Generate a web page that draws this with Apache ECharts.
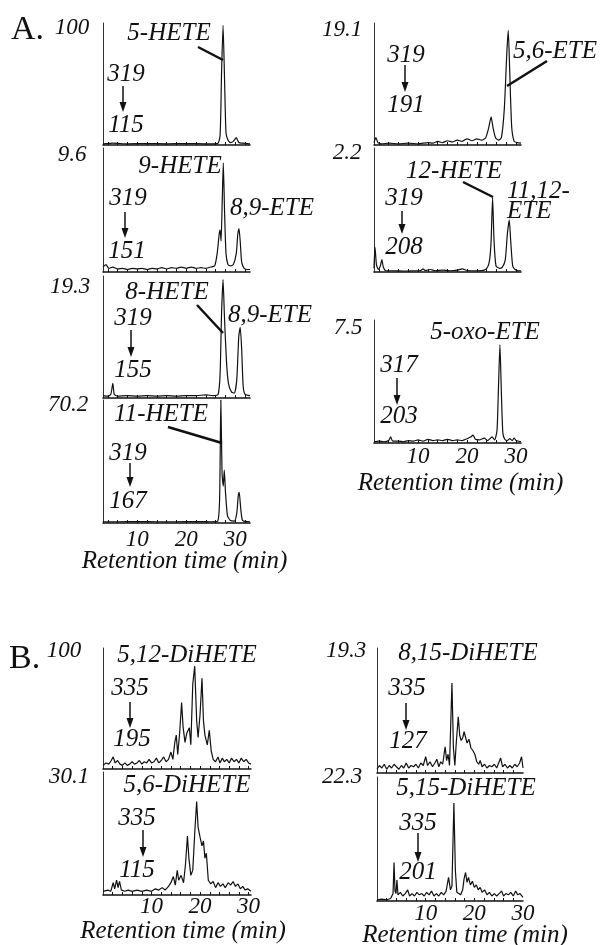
<!DOCTYPE html>
<html>
<head>
<meta charset="utf-8">
<script src="https://cdn.jsdelivr.net/npm/echarts@6/dist/echarts.min.js"></script>
<style>
  html, body { margin: 0; padding: 0; background: #fff; }
  #chart { width: 601px; height: 945px; }
</style>
</head>
<body>
<div id="chart"></div>
<script>
// retention time (min), relative intensity (% of panel full scale)
const hete5 = [[3,1],[5,1.5],[8,1],[12,1.2],[16,1],[20,1.2],[24,1],[26.4,1.2],[26.9,8],[27.2,60],[27.5,98],[27.8,55],[28.1,10],[28.5,4],[29,2],[29.6,3],[30.2,6],[30.7,2],[31.5,1.5],[33,1]];
const hete9 = [[3,4],[3.6,6],[4.2,3],[5,4],[6,2.5],[7,3],[8,2],[9,3],[10,2.5],[11,3],[12,2],[13,3],[14,2.5],[15,3.5],[16,2.5],[17,3.5],[18,3],[19,4],[20,3],[21,4],[22,3],[23,3.5],[24,3],[25,4],[25.8,5],[26.3,15],[26.7,30],[26.9,34],[27.1,25],[27.35,60],[27.55,88],[27.8,50],[28.1,15],[28.5,6],[29,5],[29.6,6],[30.2,15],[30.5,30],[30.75,35],[31,25],[31.3,8],[31.8,3],[32.5,2],[33,2]];
const hete8 = [[3,2],[4,1.5],[4.6,3],[5,12],[5.3,3],[6,1.5],[8,2],[10,1.5],[12,2],[14,1.5],[16,2],[18,1.5],[20,2],[22,2],[24,2.5],[25.5,2],[26.5,3],[26.9,20],[27.2,70],[27.5,97],[27.8,65],[28.2,30],[28.6,12],[29.2,5],[29.8,4],[30.3,15],[30.7,50],[31,58],[31.3,40],[31.6,10],[32,3],[33,2]];
const hete11 = [[3,1],[6,1],[10,1.2],[14,1],[18,1],[22,1.2],[25,1],[26.4,1.5],[26.8,20],[27.05,100],[27.3,40],[27.55,30],[27.75,43],[28,25],[28.4,6],[29,2],[29.8,1.5],[30.3,8],[30.6,22],[30.8,25],[31.1,12],[31.5,2],[33,1]];
const ete56 = [[1,2],[1.4,6],[1.8,2],[2.5,1],[4,1.5],[6,1],[8,1.5],[10,1],[12,2],[13,1.5],[14,3],[15,2],[16,3.5],[17,2.5],[18,4],[19,3],[20,5],[21,3.5],[22,5],[23,4],[23.8,6],[24.4,14],[24.9,23],[25.3,14],[25.8,6],[26.4,4],[27,6],[27.6,30],[28.1,75],[28.4,94],[28.7,60],[29.1,15],[29.6,3],[30.2,2],[31,1.5]];
const hete12 = [[1,3],[1.2,20],[1.5,6],[1.9,2],[2.3,5],[2.6,10],[2.9,4],[3.4,1],[5,1],[7,0.8],[9,1],[10.5,1.2],[11,2.5],[11.5,1.2],[12.5,2],[13.5,1],[15,1.5],[16.5,1],[18,1.5],[19,2.5],[20,1.2],[22,1],[23.5,1.5],[24.2,4],[24.6,10],[24.9,25],[25.2,60],[25.5,25],[25.9,5],[26.6,3],[27.2,4],[27.8,10],[28.2,30],[28.6,42],[28.9,25],[29.3,5],[29.8,2],[30.5,1],[31,1]];
const oxoEte5 = [[1,1],[2,1.5],[3,1],[4,2],[4.4,5],[4.8,1.5],[6,1.5],[7,1],[8,2],[9,1.5],[10,2.5],[11,1.5],[12,3],[13,2],[14,2.5],[15,2],[16,3],[17,2],[18,2.5],[19,2],[20,3.5],[20.8,5],[21.2,6.5],[21.7,3],[22.5,2.5],[23.5,4],[24.2,2],[25.1,5],[25.6,2.5],[26.1,10],[26.4,45],[26.7,80],[27,40],[27.3,8],[27.7,3],[28.2,2],[28.7,3.5],[29.2,2],[29.6,4],[30,2],[31,1]];
const diHete512 = [[0,3],[0.6,5],[1.2,4],[1.7,7],[2.1,10],[2.5,5],[3,7],[3.5,4],[4,3],[4.5,5],[5,3],[5.5,4],[6,6],[6.5,4],[7,5],[7.5,7],[8,4],[8.5,6],[9,5],[9.5,8],[10,5],[10.5,6],[11,9],[11.5,5],[12,7],[12.5,10],[13,6],[13.5,8],[14,14],[14.4,8],[14.8,22],[15.1,28],[15.4,12],[15.8,30],[16.2,55],[16.5,35],[16.9,22],[17.3,30],[17.8,34],[18.1,20],[18.5,70],[18.9,85],[19.3,40],[19.6,26],[20,45],[20.4,75],[20.7,40],[21,28],[21.5,20],[21.9,32],[22.3,15],[22.7,8],[23.2,6],[23.7,10],[24.1,5],[24.6,9],[25,6],[25.5,8],[26,5],[26.5,9],[27,6],[27.5,8],[28,5],[28.5,9],[29,6],[29.5,8],[30,5],[30.5,4]];
const diHete56 = [[0,3],[1,4],[1.6,3],[2.1,10],[2.4,5],[2.8,12],[3.1,6],[3.4,11],[3.8,4],[4.5,3],[5.2,4],[6,3],[7,4],[8,3],[9,4],[10,3],[10.8,5],[11.5,4],[12.2,6],[12.8,4],[13.5,7],[14,10],[14.5,15],[14.9,8],[15.3,20],[15.6,12],[16.1,16],[16.6,10],[17,25],[17.4,48],[17.7,30],[18.1,16],[18.5,20],[18.9,50],[19.3,76],[19.6,55],[20,47],[20.4,40],[20.7,44],[21,30],[21.3,34],[21.7,12],[22.2,9],[22.7,11],[23.2,6],[23.7,10],[24.2,7],[24.7,9],[25.2,6],[25.8,10],[26.3,8],[26.8,11],[27.3,7],[27.8,9],[28.3,5],[28.8,7],[29.3,4],[29.8,5],[30.5,3]];
const diHete815 = [[0,3],[0.5,6],[1,4],[1.5,7],[2,3],[2.5,6],[3,4],[3.5,7],[4,5],[4.5,3],[5,6],[5.5,4],[6,8],[6.5,4],[7,6],[7.5,5],[8,7],[8.5,4],[9,8],[9.5,6],[10,13],[10.4,6],[10.9,9],[11.4,5],[11.9,8],[12.3,11],[12.7,5],[13.1,9],[13.5,7],[14,21],[14.3,10],[14.6,15],[14.9,6],[15.4,72],[15.7,20],[16,6],[16.3,25],[16.7,45],[17,30],[17.3,26],[17.6,28],[17.9,33],[18.2,34],[18.5,24],[18.9,27],[19.3,20],[19.7,18],[20.1,15],[20.5,9],[20.9,7],[21.2,10],[21.6,5],[22.1,7],[22.6,4],[23.1,6],[23.6,5],[24.1,7],[24.6,4],[25,8],[25.4,12],[25.8,5],[26.3,7],[26.8,4],[27.3,6],[27.8,4],[28.3,7],[28.8,5],[29.3,8],[29.7,13],[30,4]];
const diHete515 = [[0,1],[1,1.5],[2,1],[2.8,2],[3.3,6],[3.5,31],[3.7,8],[3.9,6],[4.1,17],[4.3,5],[4.8,7],[5.3,4],[5.8,6],[6.3,9],[6.7,4],[7.2,6],[7.7,4],[8.2,7],[8.7,5],[9.2,6],[9.7,4],[10.2,7],[10.7,5],[11.2,8],[11.7,4],[12.2,6],[12.7,4],[13.2,7],[13.7,5],[14.2,8],[14.7,19],[15.1,9],[15.4,12],[15.8,79],[16.1,25],[16.4,7],[16.8,6],[17.2,5],[17.6,9],[17.9,18],[18.2,23],[18.5,15],[18.8,19],[19.2,13],[19.6,16],[20,11],[20.4,13],[20.8,9],[21.2,11],[21.6,7],[22.1,9],[22.6,5],[23.1,7],[23.6,4],[24.1,6],[24.6,4],[25.1,6],[25.6,8],[26,4],[26.5,6],[27,5],[27.5,7],[28,4],[28.5,8],[28.9,5],[29.4,6],[30,3]];

const tickLabels = [10, 20, 30];
const minorTicks = [2, 4, 6, 8, 10, 12, 14, 16, 18, 20, 22, 24, 26, 28, 30, 32];
const scaleLabels = ['100', '9.6', '19.3', '70.2', '19.1', '2.2', '7.5', '100', '30.1', '19.3', '22.3'];
const precursors = ['319', '319', '319', '319', '319', '319', '317', '335', '335', '335', '335'];
const products = ['115', '151', '155', '167', '191', '208', '203', '195', '115', '127', '201'];
const compounds = ['5-HETE', '9-HETE', '8-HETE', '11-HETE', '5,6-ETE', '12-HETE', '5-oxo-ETE', '5,12-DiHETE', '5,6-DiHETE', '8,15-DiHETE', '5,15-DiHETE'];
const xTitle = 'Retention time (min)';

const SERIF = '"Liberation Serif", "DejaVu Serif", serif';
const INK = '#111';

// layout: grid [left, top, width, height], x range, smoothing, text anchors
const panels = [
  { data: hete5, grid: [103, 23, 147, 122], x: [3, 33], smooth: 0.2, scale: [72, 28], pre: [126, 74], arrow: [123, 86, 112], prod: [126, 125], name: [169, 33], leader: [198, 47, 223, 60] },
  { data: hete9, grid: [103, 148, 147, 124], x: [3, 33], smooth: 0.2, scale: [72, 155], pre: [128, 198], arrow: [125, 212, 238], prod: [127, 251], name: [180, 166] },
  { data: hete8, grid: [103, 276, 147, 122], x: [3, 33], smooth: 0.2, scale: [70, 287], pre: [133, 318], arrow: [131, 330, 357], prod: [133, 370], name: [167, 292], leader: [197, 305, 223, 333] },
  { data: hete11, grid: [103, 400, 147, 123], x: [3, 33], smooth: 0.2, scale: [68, 405], pre: [128, 453], arrow: [130, 463, 487], prod: [128, 501], name: [161, 414], leader: [168, 427, 222, 443], axisTitle: { gap: 26, shift: 16, margin: 5 } },
  { data: ete56, grid: [374, 23, 147, 122], x: [1, 31], smooth: 0.2, scale: [342, 30], pre: [406, 55], arrow: [405, 65, 92], prod: [406, 105], name: [555, 51], leader: [547, 61, 507, 86] },
  { data: hete12, grid: [374, 148, 147, 124], x: [1, 31], smooth: 0.2, scale: [347, 153], pre: [404, 198], arrow: [402, 211, 234], prod: [404, 247], name: [454, 171], leader: [463, 182, 493, 197] },
  { data: oxoEte5, grid: [374, 320, 147, 123], x: [1, 31], smooth: 0.2, scale: [348, 328], pre: [399, 365], arrow: [397, 378, 405], prod: [399, 416], name: [485, 332], axisTitle: { gap: 28, shift: 26, margin: 2 } },
  { data: diHete512, grid: [103, 648, 148, 121], x: [0, 30.5], smooth: false, scale: [64, 651], pre: [130, 688], arrow: [130, 702, 728], prod: [132, 739], name: [187, 655] },
  { data: diHete56, grid: [103, 772, 148, 123], x: [0, 30.5], smooth: false, scale: [69, 777], pre: [137, 818], arrow: [143, 830, 857], prod: [137, 870], name: [187, 785], axisTitle: { gap: 24, shift: 12, margin: 0 } },
  { data: diHete815, grid: [377, 648, 146, 125], x: [0, 30], smooth: false, scale: [346, 651], pre: [407, 688], arrow: [406, 703, 730], prod: [408, 741], name: [468, 653] },
  { data: diHete515, grid: [377, 777, 146, 124], x: [0, 30], smooth: false, scale: [342, 777], pre: [418, 823], arrow: [418, 833, 862], prod: [418, 872], name: [466, 788], axisTitle: { gap: 22, shift: 30, margin: 1 } }
];

// extra labels that sit beside the peaks, not above them
const sideLabels = [
  { text: '8,9-ETE', x: 230, y: 208 },
  { text: '8,9-ETE', x: 228, y: 315 },
  { text: '11,12-', x: 507, y: 191 },
  { text: 'ETE', x: 507, y: 211 }
];

function txt(x, y, s, size, align, italic) {
  return {
    type: 'text', x: x, y: y, silent: true,
    style: {
      text: s, fill: INK, align: align || 'center', verticalAlign: 'middle',
      font: (italic === false ? '' : 'italic ') + size + 'px ' + SERIF
    }
  };
}

const grids = [], xAxes = [], yAxes = [], series = [], graphics = [];

panels.forEach(function (p, i) {
  grids.push({ left: p.grid[0], top: p.grid[1], width: p.grid[2], height: p.grid[3], outerBoundsMode: 'none', containLabel: false });
  const ticks = minorTicks.filter(function (v) { return v > p.x[0] && v < p.x[1]; });
  const bottom = !!p.axisTitle;
  xAxes.push({
    gridIndex: i, type: 'value', min: p.x[0], max: p.x[1],
    axisLine: { show: true, onZero: false, lineStyle: { color: INK, width: 1.5 } },
    axisTick: { show: true, inside: true, length: 3, customValues: ticks, lineStyle: { color: INK, width: 1 } },
    axisLabel: bottom ? {
      show: true, customValues: tickLabels, margin: p.axisTitle.margin,
      color: INK, fontFamily: SERIF, fontStyle: 'italic', fontSize: 23
    } : { show: false },
    splitLine: { show: false },
    name: bottom ? xTitle : '',
    nameLocation: 'middle',
    nameGap: bottom ? p.axisTitle.gap : 0,
    nameMoveOverlap: false,
    nameTextStyle: bottom ? {
      color: INK, fontFamily: SERIF, fontStyle: 'italic', fontSize: 25,
      padding: [0, 0, 0, p.axisTitle.shift]
    } : {}
  });
  yAxes.push({
    gridIndex: i, type: 'value', min: 0, max: 100,
    axisLine: { show: true, lineStyle: { color: '#333', width: 1 } },
    axisTick: { show: false }, axisLabel: { show: false }, splitLine: { show: false }
  });
  series.push({
    type: 'line', xAxisIndex: i, yAxisIndex: i, data: p.data,
    showSymbol: false, smooth: p.smooth, clip: false,
    lineStyle: { color: INK, width: 1.2 }
  });

  graphics.push(txt(p.scale[0], p.scale[1], scaleLabels[i], 23));
  graphics.push(txt(p.pre[0], p.pre[1], precursors[i], 25));
  graphics.push(txt(p.prod[0], p.prod[1], products[i], 25));
  graphics.push(txt(p.name[0], p.name[1], compounds[i], 25));
  const a = p.arrow;
  graphics.push({ type: 'line', silent: true, shape: { x1: a[0], y1: a[1], x2: a[0], y2: a[2] - 7 }, style: { stroke: INK, lineWidth: 1.5 } });
  graphics.push({ type: 'polygon', silent: true, shape: { points: [[a[0] - 3.5, a[2] - 10], [a[0] + 3.5, a[2] - 10], [a[0], a[2]]] }, style: { fill: INK } });
  if (p.leader) {
    const l = p.leader;
    graphics.push({ type: 'line', silent: true, shape: { x1: l[0], y1: l[1], x2: l[2], y2: l[3] }, style: { stroke: INK, lineWidth: 2.5 } });
  }
});

sideLabels.forEach(function (s) { graphics.push(txt(s.x, s.y, s.text, 25, 'left')); });
graphics.push(txt(11, 30, 'A.', 34, 'left', false));
graphics.push(txt(9, 659, 'B.', 34, 'left', false));

const chart = echarts.init(document.getElementById('chart'), null, { renderer: 'canvas' });
chart.setOption({
  animation: false,
  backgroundColor: '#fff',
  grid: grids,
  xAxis: xAxes,
  yAxis: yAxes,
  series: series,
  graphic: graphics
});
</script>
</body>
</html>
